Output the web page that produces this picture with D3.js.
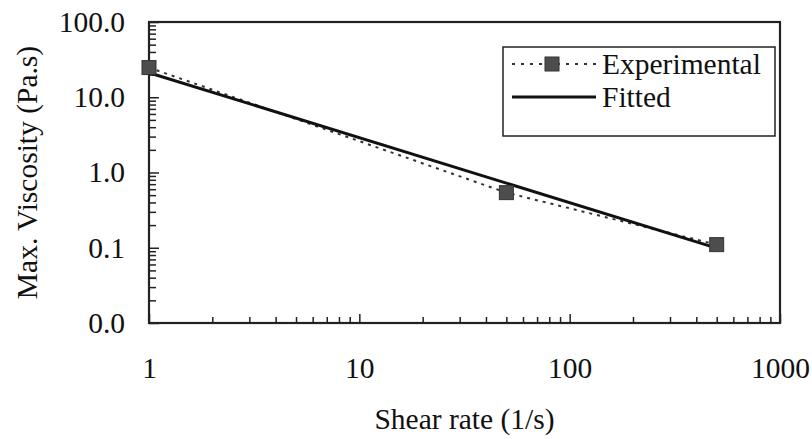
<!DOCTYPE html>
<html>
<head>
<meta charset="utf-8">
<script src="https://cdn.jsdelivr.net/npm/d3@7"></script>
<style>
  body { margin: 0; background: #fff; }
</style>
</head>
<body>
<div id="chart"></div>
<script>
// data
const shearRates = [1, 50, 500];
const experimental = [24.8, 0.54, 0.11];
const fittedRates = [1, 500];
const fitted = [21.2, 0.099];

const xTicks = [1, 10, 100, 1000];
const yTicks = [0.01, 0.1, 1, 10, 100];
const seriesNames = ["Experimental", "Fitted"];

// chart size and margins
const width = 812;
const height = 439;
const margin = { top: 22, right: 32, bottom: 116, left: 149 };
const plotW = width - margin.left - margin.right;
const plotH = height - margin.top - margin.bottom;
const fontSize = 29.5;
const fontFamily = "'Liberation Serif', 'Times New Roman', Tinos, 'DejaVu Serif', serif";

const svg = d3.select("#chart")
  .append("svg")
  .attr("width", width)
  .attr("height", height)
  .attr("font-family", fontFamily);

const g = svg.append("g")
  .attr("transform", "translate(" + margin.left + "," + margin.top + ")");

const x = d3.scaleLog().domain([1, 1000]).range([0, plotW]);
const y = d3.scaleLog().domain([0.01, 100]).range([plotH, 0]);

// minor ticks 2..9 in every decade
var minorTicks = function (ticks) {
  var out = [];
  for (var i = 0; i < ticks.length - 1; i++) {
    for (var k = 2; k <= 9; k++) out.push(ticks[i] * k);
  }
  return out;
};

// x axis, ticks point inward
g.append("g")
  .attr("class", "x-minor")
  .attr("transform", "translate(0," + plotH + ")")
  .call(d3.axisBottom(x).tickValues(minorTicks(xTicks)).tickSize(-6).tickFormat(""));

g.append("g")
  .attr("class", "x-major")
  .attr("transform", "translate(0," + plotH + ")")
  .call(d3.axisBottom(x).tickValues(xTicks).tickSize(-9).tickPadding(34)
    .tickFormat(d3.format("d")));

// y axis
g.append("g")
  .attr("class", "y-minor")
  .call(d3.axisLeft(y).tickValues(minorTicks(yTicks)).tickSize(-7).tickFormat(""));

g.append("g")
  .attr("class", "y-major")
  .call(d3.axisLeft(y).tickValues(yTicks).tickSize(-10).tickPadding(24)
    .tickFormat(d3.format(".1f")));

g.selectAll(".domain").remove();
g.selectAll(".tick line").attr("stroke", "#222").attr("stroke-width", 1.5);
g.selectAll(".tick text")
  .attr("font-size", fontSize)
  .attr("font-family", fontFamily)
  .attr("fill", "#111");

// plot frame
g.append("rect")
  .attr("width", plotW)
  .attr("height", plotH)
  .attr("fill", "none")
  .attr("stroke", "#222")
  .attr("stroke-width", 2.2);

// axis titles
svg.append("text")
  .attr("x", margin.left + plotW / 2)
  .attr("y", 429)
  .attr("text-anchor", "middle")
  .attr("font-size", fontSize)
  .attr("fill", "#111")
  .text("Shear rate (1/s)");

svg.append("text")
  .attr("transform", "translate(37," + (margin.top + plotH / 2) + ") rotate(-90)")
  .attr("text-anchor", "middle")
  .attr("font-size", fontSize)
  .attr("fill", "#111")
  .text("Max. Viscosity (Pa.s)");

// series
const expPts = shearRates.map(function (d, i) { return [d, experimental[i]]; });
const fitPts = fittedRates.map(function (d, i) { return [d, fitted[i]]; });

const line = d3.line()
  .x(function (d) { return x(d[0]); })
  .y(function (d) { return y(d[1]); });

g.append("path")
  .datum(expPts)
  .attr("fill", "none")
  .attr("stroke", "#333")
  .attr("stroke-width", 2)
  .attr("stroke-dasharray", "3,5")
  .attr("d", line);

g.append("path")
  .datum(fitPts)
  .attr("fill", "none")
  .attr("stroke", "#111")
  .attr("stroke-width", 3)
  .attr("d", line);

const mk = 14;
g.selectAll(".marker")
  .data(expPts)
  .enter()
  .append("rect")
  .attr("class", "marker")
  .attr("x", function (d) { return x(d[0]) - mk / 2; })
  .attr("y", function (d) { return y(d[1]) - mk / 2; })
  .attr("width", mk)
  .attr("height", mk)
  .attr("fill", "#4d4d4d")
  .attr("stroke", "#333")
  .attr("stroke-width", 1);

// legend
const lg = svg.append("g").attr("transform", "translate(503,47)");
lg.append("rect")
  .attr("width", 272)
  .attr("height", 89)
  .attr("fill", "#fff")
  .attr("stroke", "#222")
  .attr("stroke-width", 1.5);

const rowY = [17, 50];
lg.append("line")
  .attr("x1", 9).attr("x2", 95)
  .attr("y1", rowY[0]).attr("y2", rowY[0])
  .attr("stroke", "#333").attr("stroke-width", 2)
  .attr("stroke-dasharray", "3,6");
lg.append("rect")
  .attr("x", 49 - mk / 2).attr("y", rowY[0] - mk / 2)
  .attr("width", mk).attr("height", mk)
  .attr("fill", "#4d4d4d").attr("stroke", "#333");
lg.append("line")
  .attr("x1", 9).attr("x2", 93)
  .attr("y1", rowY[1]).attr("y2", rowY[1])
  .attr("stroke", "#111").attr("stroke-width", 3);

lg.selectAll(".ltext")
  .data(seriesNames)
  .enter()
  .append("text")
  .attr("class", "ltext")
  .attr("x", 99)
  .attr("y", function (d, i) { return rowY[i]; })
  .attr("dy", "0.35em")
  .attr("font-size", fontSize)
  .attr("fill", "#111")
  .text(function (d) { return d; });
</script>
</body>
</html>
